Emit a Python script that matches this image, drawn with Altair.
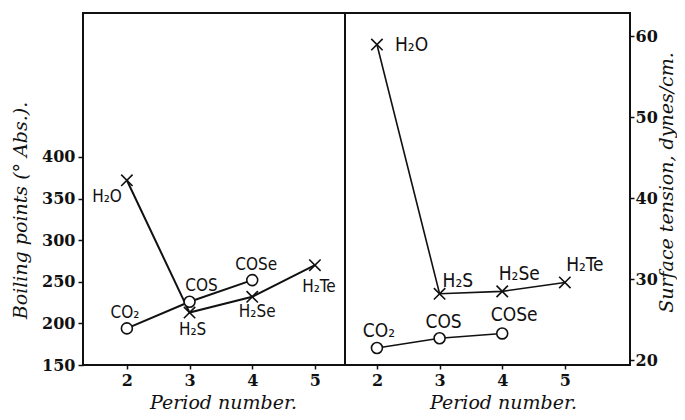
import altair as alt
import pandas as pd

# ---- data ----
periods_hyd = [2, 3, 4, 5]
names_hyd = ["H₂O", "H₂S", "H₂Se", "H₂Te"]
periods_cox = [2, 3, 4]
names_cox = ["CO₂", "COS", "COSe"]

bp_hyd = [372, 213, 232, 270]        # boiling points, deg Abs.
bp_cox = [194, 226, 252]
st_hyd = [59.0, 28.2, 28.5, 29.6]    # surface tension, dynes/cm
st_cox = [21.5, 22.7, 23.3]

bp_ticks = [150, 200, 250, 300, 350, 400]
st_ticks = [20, 30, 40, 50, 60]
period_ticks = [2, 3, 4, 5]

# ---- styles ----
X_PATH = "M-1,-1L1,1M-1,1L1,-1"
INK = "#111111"
LABEL_FONT = "DejaVu Sans Condensed"
PLOT_H = 352

left_offsets = {
    "H₂O": (-5, 17, "right"), "H₂S": (3, 17, "center"), "H₂Se": (5, 15, "center"),
    "H₂Te": (4, 22, "center"), "CO₂": (-2, -15, "center"), "COS": (12, -16, "center"),
    "COSe": (4, -15, "center"),
}
right_offsets = {
    "H₂O": (18, 0, "left"), "H₂S": (3, -13, "left"), "H₂Se": (17, -17, "center"),
    "H₂Te": (20, -17, "center"), "CO₂": (2, -17, "center"), "COS": (4, -16, "center"),
    "COSe": (12, -18, "center"),
}


def panel(hyd_vals, cox_vals, ydomain, xdomain, yticks, yaxis_extra, xaxis_extra,
          offsets, lw, width, fsize):
    df_h = pd.DataFrame({"period": periods_hyd, "value": hyd_vals, "name": names_hyd})
    df_c = pd.DataFrame({"period": periods_cox, "value": cox_vals, "name": names_cox})
    x = alt.X("period:Q",
              scale=alt.Scale(domain=xdomain, nice=False, zero=False),
              axis=alt.Axis(values=period_ticks, title="Period number.", **xaxis_extra))
    y = alt.Y("value:Q",
              scale=alt.Scale(domain=ydomain, nice=False, zero=False),
              axis=alt.Axis(values=yticks, **yaxis_extra))
    layers = [
        alt.Chart(df_h).mark_line(color=INK, strokeWidth=lw).encode(x=x, y=y),
        alt.Chart(df_c).mark_line(color=INK, strokeWidth=lw).encode(x=x, y=y),
        alt.Chart(df_h).mark_point(shape=X_PATH, size=130, filled=False, color=INK,
                                   strokeWidth=1.6, opacity=1).encode(x=x, y=y),
        alt.Chart(df_c).mark_point(shape="circle", size=120, filled=True, fill="white",
                                   stroke=INK, strokeWidth=1.6, opacity=1).encode(x=x, y=y),
    ]
    for df in (df_h, df_c):
        for n in df["name"]:
            dx, dy, al = offsets[n]
            layers.append(
                alt.Chart(df).transform_filter(alt.datum.name == n)
                .mark_text(dx=dx, dy=dy, align=al, baseline="middle", font=LABEL_FONT,
                           fontSize=fsize, color=INK)
                .encode(x=x, y=y, text="name:N")
            )
    return alt.layer(*layers).properties(width=width, height=PLOT_H)


left = panel(
    bp_hyd, bp_cox, [150, 573], [1.3, 5.48], bp_ticks,
    dict(title="Boiling points (° Abs.).", orient="left", titleX=-63, titleY=197,
         titleAngle=270, titleBaseline="middle", titleAlign="center",
         tickSize=5, labelPadding=3),
    dict(titleX=140, titleY=43, titleBaseline="alphabetic", titleAlign="center"),
    left_offsets, 2.0, 262, 17,
)
right = panel(
    st_hyd, st_cox, [19.4, 62.9], [1.49, 6.04], st_ticks,
    dict(title="Surface tension, dynes/cm.", orient="right", titleX=36, titleY=169,
         titleAngle=270, titleBaseline="middle", titleAlign="center",
         tickSize=4, labelPadding=1),
    dict(titleX=158, titleY=43, titleBaseline="alphabetic", titleAlign="center"),
    right_offsets, 1.6, 285, 19,
)

chart = (
    alt.hconcat(left, right, spacing=0, bounds="flush")
    .properties(padding={"left": 2, "top": 4, "right": 0, "bottom": 0})
    .configure_view(stroke=INK, strokeWidth=2)
    .configure_axis(
        domain=False, grid=False, tickColor=INK, tickWidth=1.5,
        labelFont="DejaVu Serif", labelFontWeight="bold", labelFontSize=16,
        labelColor=INK,
        titleFont="DejaVu Serif", titleFontStyle="italic", titleFontWeight="normal",
        titleFontSize=19, titleColor=INK,
    )
    .configure_axisX(tickSize=4, labelPadding=3)
)

chart.save("out.html", embed_options={"renderer": "svg", "actions": False})
